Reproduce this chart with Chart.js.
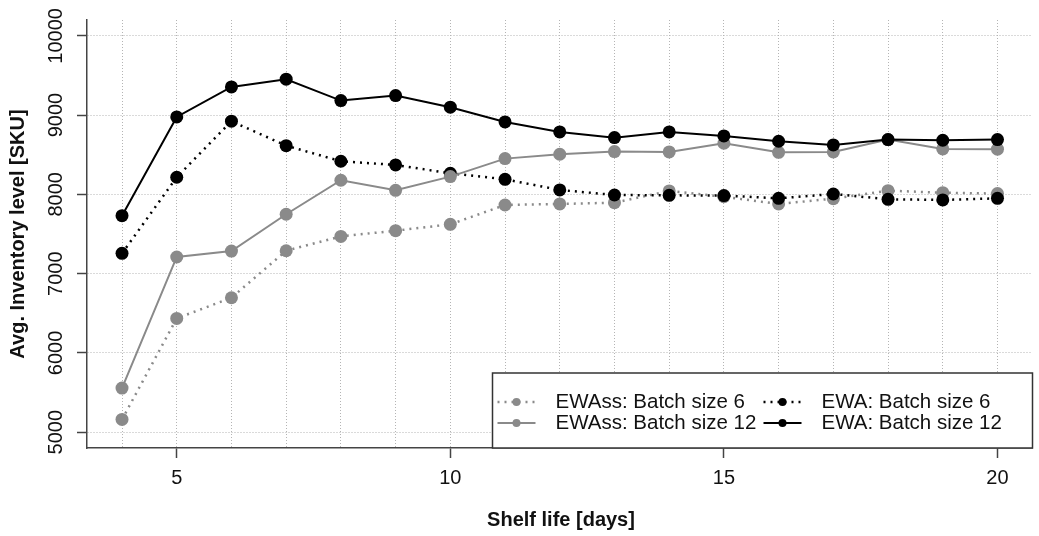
<!DOCTYPE html>
<html>
<head>
<meta charset="utf-8">
<script src="https://cdn.jsdelivr.net/npm/chart.js@4.4.1/dist/chart.umd.min.js"></script>
<style>
    html, body { margin: 0; padding: 0; background: #fff; }
</style>
</head>
<body>
<canvas id="chart" width="1039" height="536"></canvas>
<script>
// values
const shelfLife = [4, 5, 6, 7, 8, 9, 10, 11, 12, 13, 14, 15, 16, 17, 18, 19, 20];
const ewassBatch6 = [5160, 6435, 6696, 7289, 7470, 7542, 7622, 7866, 7879, 7895, 8043, 7970, 7879, 7946, 8047, 8021, 8010];
const ewassBatch12 = [5556, 7210, 7285, 7749, 8178, 8051, 8224, 8451, 8506, 8540, 8535, 8645, 8531, 8535, 8691, 8573, 8570];
const ewaBatch6 = [7256, 8216, 8923, 8615, 8418, 8371, 8266, 8190, 8056, 7992, 7988, 7985, 7950, 8005, 7938, 7930, 7950];
const ewaBatch12 = [7731, 8977, 9356, 9453, 9183, 9246, 9100, 8914, 8788, 8716, 8788, 8737, 8670, 8624, 8691, 8683, 8691];

const xLabelTicks = [5, 10, 15, 20];
const yTicks = [5000, 6000, 7000, 8000, 9000, 10000];

const GREY = "#8a8a8a";
const FONT = "'Liberation Sans', Arial, sans-serif";

function toPoints(values) {
    return shelfLife.map((x, i) => ({ x: x, y: values[i] }));
}

function lineSet(label, values, color, dotted, order) {
    return {
        label: label,
        data: toPoints(values),
        borderColor: color,
        backgroundColor: color,
        borderWidth: dotted ? 2.5 : 2,
        borderDash: dotted ? [2, 5] : [],
        pointRadius: 6.5,
        pointHoverRadius: 6.5,
        pointBorderWidth: 0,
        pointBackgroundColor: color,
        tension: 0,
        order: order
    };
}

// R-style texts and legend box
const rDecor = {
    id: "rDecor",
    afterDraw(chart) {
        const ctx = chart.ctx;
        const area = chart.chartArea;
        const xs = chart.scales.x;
        const ys = chart.scales.y;

        ctx.save();
        ctx.fillStyle = "#111";
        ctx.font = "20px " + FONT;
        ctx.textAlign = "center";
        ctx.textBaseline = "middle";

        xLabelTicks.forEach(v => {
            ctx.fillText(String(v), xs.getPixelForValue(v), 478);
        });

        yTicks.forEach(v => {
            ctx.save();
            ctx.translate(56, ys.getPixelForValue(v));
            ctx.rotate(-Math.PI / 2);
            ctx.fillText(String(v), 0, 0);
            ctx.restore();
        });

        ctx.font = "bold 20px " + FONT;
        ctx.fillText("Shelf life [days]", 561, 520);
        ctx.save();
        ctx.translate(18, (area.top + area.bottom) / 2);
        ctx.rotate(-Math.PI / 2);
        ctx.fillText("Avg. Inventory level [SKU]", 0, 0);
        ctx.restore();

        // legend, bottom right inside the plot
        const lw = 540, lh = 75;
        const lx = area.right - lw;
        const ly = area.bottom - lh;
        ctx.fillStyle = "#fff";
        ctx.fillRect(lx, ly, lw, lh);
        ctx.strokeStyle = "#333";
        ctx.lineWidth = 1.5;
        ctx.strokeRect(lx, ly, lw, lh);

        const ds = chart.data.datasets;
        const entries = [
            { d: ds[0], col: 0, row: 0 },
            { d: ds[1], col: 0, row: 1 },
            { d: ds[2], col: 1, row: 0 },
            { d: ds[3], col: 1, row: 1 }
        ];
        entries.forEach(e => {
            const ox = lx + (e.col === 0 ? 5 : 271);
            const oy = ly + (e.row === 0 ? 29 : 50);
            ctx.strokeStyle = e.d.borderColor;
            ctx.lineWidth = e.d.borderWidth;
            ctx.setLineDash(e.d.borderDash);
            ctx.beginPath();
            ctx.moveTo(ox, oy);
            ctx.lineTo(ox + 38, oy);
            ctx.stroke();
            ctx.setLineDash([]);
            ctx.fillStyle = e.d.pointBackgroundColor;
            ctx.beginPath();
            ctx.arc(ox + 19, oy, 4, 0, Math.PI * 2);
            ctx.fill();
            ctx.fillStyle = "#111";
            ctx.font = "20.5px " + FONT;
            ctx.textAlign = "left";
            ctx.fillText(e.d.label, ox + 58, oy);
        });
        ctx.restore();
    }
};

new Chart(document.getElementById("chart"), {
    type: "line",
    data: {
        datasets: [
            lineSet("EWAss: Batch size 6", ewassBatch6, GREY, true, 4),
            lineSet("EWAss: Batch size 12", ewassBatch12, GREY, false, 2),
            lineSet("EWA: Batch size 6", ewaBatch6, "#000", true, 3),
            lineSet("EWA: Batch size 12", ewaBatch12, "#000", false, 1)
        ]
    },
    options: {
        responsive: false,
        devicePixelRatio: 1,
        animation: false,
        layout: { padding: { top: 20, right: 4, left: 0, bottom: 0 } },
        plugins: {
            legend: { display: false },
            tooltip: { enabled: false }
        },
        scales: {
            x: {
                type: "linear",
                min: 3.36,
                max: 20.64,
                afterBuildTicks: scale => { scale.ticks = shelfLife.map(v => ({ value: v })); },
                afterFit: scale => { scale.height = 88; },
                ticks: { display: false },
                grid: {
                    color: "#b4b4b4",
                    lineWidth: 1,
                    drawTicks: true,
                    tickLength: 10,
                    tickWidth: 1.5,
                    tickBorderDash: [],
                    tickColor: c => (c.tick && xLabelTicks.includes(c.tick.value)) ? "#444" : "rgba(0,0,0,0)"
                },
                border: { display: true, color: "#444", width: 1.5, dash: [1, 2] }
            },
            y: {
                type: "linear",
                min: 4800,
                max: 10200,
                afterBuildTicks: scale => { scale.ticks = yTicks.map(v => ({ value: v })); },
                afterFit: scale => { scale.width = 87; },
                ticks: { display: false },
                grid: {
                    color: "#b4b4b4",
                    lineWidth: 1,
                    drawTicks: true,
                    tickLength: 10,
                    tickWidth: 1.5,
                    tickBorderDash: [],
                    tickColor: "#444"
                },
                border: { display: true, color: "#444", width: 1.5, dash: [1, 2] }
            }
        }
    },
    plugins: [rDecor]
});
</script>
</body>
</html>
